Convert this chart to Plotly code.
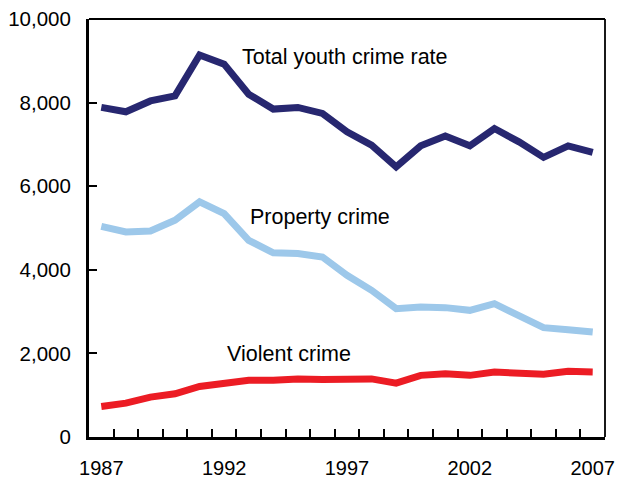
import plotly.graph_objects as go

years = list(range(1987, 2008))
total_youth = [7885, 7780, 8040, 8160, 9140, 8920, 8200, 7845, 7885, 7740,
               7300, 6980, 6460, 6965, 7200, 6965, 7380, 7060, 6690, 6965, 6810]
property_crime = [5040, 4905, 4930, 5185, 5625, 5345, 4705, 4405, 4390, 4305,
                  3870, 3510, 3070, 3110, 3095, 3030, 3190, 2910, 2615, 2565, 2510]
violent_crime = [730, 810, 955, 1035, 1210, 1290, 1355, 1355, 1390, 1375,
                 1375, 1390, 1290, 1475, 1515, 1475, 1555, 1515, 1500, 1570, 1555]
x_ticks = [1987, 1992, 1997, 2002, 2007]
y_ticks = [0, 2000, 4000, 6000, 8000, 10000]
y_labels = ["0", "2,000", "4,000", "6,000", "8,000", "10,000"]

NAVY = "#272770"
LIGHT = "#9DC8EA"
RED = "#EC1C24"
FONT = "Liberation Sans, Arial, Helvetica, sans-serif"

fig = go.Figure()
fig.add_trace(go.Scatter(x=years, y=violent_crime, mode="lines",
                         line=dict(color=RED, width=7), showlegend=False))
fig.add_trace(go.Scatter(x=years, y=property_crime, mode="lines",
                         line=dict(color=LIGHT, width=7), showlegend=False))
fig.add_trace(go.Scatter(x=years, y=total_youth, mode="lines",
                         line=dict(color=NAVY, width=7), showlegend=False))

ann_font = dict(family=FONT, size=21.5, color="black")
fig.add_annotation(x=1992.65, y=9090, text="Total youth crime rate", showarrow=False,
                   xanchor="left", yanchor="middle", font=ann_font)
fig.add_annotation(x=1992.98, y=5257, text="Property crime", showarrow=False,
                   xanchor="left", yanchor="middle", font=ann_font)
fig.add_annotation(x=1992.04, y=1976, text="Violent crime", showarrow=False,
                   xanchor="left", yanchor="middle", font=ann_font)

# thin top/right frame
fig.add_shape(type="line", xref="paper", yref="paper", x0=0, x1=1, y0=1, y1=1,
              line=dict(color="black", width=1.8))
fig.add_shape(type="line", xref="paper", yref="paper", x0=1, x1=1, y0=0, y1=1,
              line=dict(color="black", width=1.8))

fig.update_layout(
    width=618, height=481,
    margin=dict(l=89, r=13, t=19, b=44),
    paper_bgcolor="white", plot_bgcolor="white",
    font=dict(family=FONT, size=20.5, color="black"),
    xaxis=dict(range=[1986.5, 2007.5], tickvals=x_ticks, ticktext=[str(v) for v in x_ticks],
               ticks="inside", ticklen=0, tickcolor="black",
               tickfont=dict(size=20),
               showgrid=False, zeroline=False, automargin=False,
               ticklabeloverflow="allow",
               showline=True, linecolor="black", linewidth=3,
               ticklabelstandoff=11,
               minor=dict(tick0=0.5, dtick=1, ticks="inside", ticklen=8,
                          tickwidth=2, tickcolor="black", showgrid=False)),
    yaxis=dict(range=[0, 10000], tickvals=y_ticks, ticktext=y_labels,
               ticks="inside", ticklen=8, tickwidth=2, tickcolor="black",
               showgrid=False, zeroline=False, automargin=False,
               ticklabeloverflow="allow",
               showline=True, linecolor="black", linewidth=3,
               ticklabelstandoff=11),
)

fig.write_html("out.html", config={"displayModeBar": False},
               post_script="document.body.style.margin='0';document.body.style.overflow='hidden';")
